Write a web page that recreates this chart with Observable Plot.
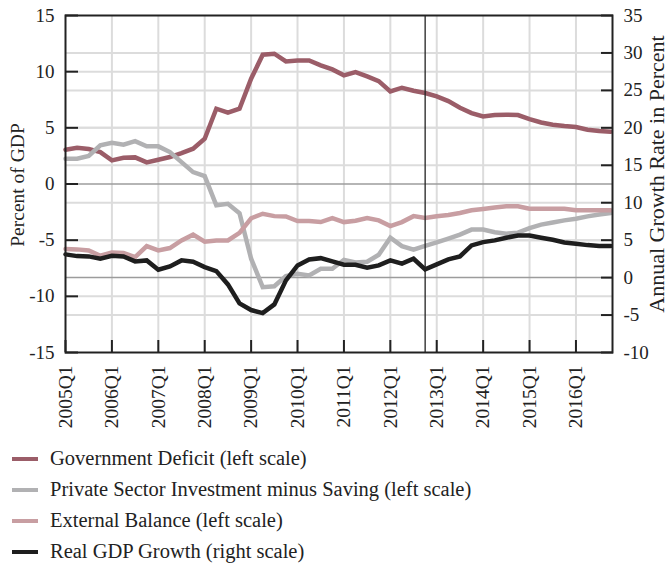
<!DOCTYPE html>
<html><head><meta charset="utf-8">
<script src="https://cdn.jsdelivr.net/npm/d3@7"></script>
<script src="https://cdn.jsdelivr.net/npm/@observablehq/plot@0.6"></script>
<style>
body{margin:0;background:#fff;font-family:"Liberation Serif",serif;overflow:hidden;}
#legend{padding-top:3px;}
.item{display:flex;align-items:center;height:31px;font-size:20.5px;color:#222;white-space:nowrap;}
.sw{width:26px;height:4px;margin-left:12px;margin-right:12px;flex:none;}
</style></head><body>
<div id="chart"></div>
<div id="legend"></div>
<script>
// Quarterly observations, 2005Q1 .. 2016Q4
const years = [2005,2006,2007,2008,2009,2010,2011,2012,2013,2014,2015,2016];
const quarters = years.flatMap(y => ["Q1","Q2","Q3","Q4"].map(q => y + q));

// Left scale (percent of GDP)
const govDeficit = [3.05,3.23,3.11,2.84,2.10,2.34,2.37,1.92,2.16,2.40,2.75,3.14,
  4.03,6.70,6.35,6.70,9.37,11.51,11.6,10.91,11.0,11.0,10.56,10.2,
  9.67,9.96,9.58,9.16,8.24,8.57,8.3,8.1,7.8,7.38,6.79,6.31,
  6.02,6.14,6.17,6.14,5.78,5.48,5.28,5.16,5.07,4.83,4.71,4.65];
const privateBalance = [2.25,2.25,2.49,3.44,3.67,3.5,3.82,3.35,3.35,2.84,1.95,1.06,
  0.7,-1.9,-1.76,-2.6,-6.65,-9.18,-9.1,-8.2,-8.0,-8.14,-7.54,-7.54,
  -6.75,-6.98,-6.92,-6.3,-4.78,-5.53,-5.85,-5.5,-5.2,-4.86,-4.51,-4.06,
  -4.06,-4.3,-4.42,-4.33,-3.92,-3.62,-3.42,-3.24,-3.09,-2.88,-2.71,-2.59];
const externalBalance = [-5.79,-5.82,-5.91,-6.39,-6.09,-6.15,-6.51,-5.53,-5.91,-5.7,-5.02,-4.51,
  -5.14,-5.02,-5.02,-4.35,-3.05,-2.65,-2.86,-2.89,-3.3,-3.3,-3.39,-3.03,
  -3.39,-3.27,-3.03,-3.24,-3.74,-3.39,-2.86,-3.03,-2.88,-2.76,-2.58,-2.34,
  -2.22,-2.1,-1.99,-1.99,-2.2,-2.2,-2.2,-2.2,-2.34,-2.34,-2.34,-2.34];
// Right scale (annual growth rate, percent)
const gdpGrowth = [3.1,2.87,2.83,2.52,2.92,2.83,2.16,2.3,1.05,1.5,2.3,2.12,
  1.4,0.87,-0.91,-3.45,-4.33,-4.74,-3.58,-0.37,1.63,2.43,2.6,2.16,
  1.72,1.72,1.32,1.63,2.3,1.86,2.52,1.1,1.76,2.43,2.83,4.3,
  4.74,4.97,5.33,5.63,5.63,5.33,5.06,4.7,4.53,4.34,4.21,4.21];

const leftTicks = [15,10,5,0,-5,-10,-15];
const rightTicks = [35,30,25,20,15,10,5,0,-5,-10];
const xTickLabels = ["2005Q1","2006Q1","2007Q1","2008Q1","2009Q1","2010Q1","2011Q1","2012Q1","2013Q1","2014Q1","2015Q1","2016Q1"];
const forecastStart = "2012Q4";
const leftTitle = "Percent of GDP";
const rightTitle = "Annual Growth Rate in Percent";

const seriesNames = ["Government Deficit (left scale)","Private Sector Investment minus Saving (left scale)","External Balance (left scale)","Real GDP Growth (right scale)"];
const colors = ["#9b5d68","#b1b1b3","#c89ea2","#1e1e1e"];

// right scale -> left scale (35 <-> 15, -10 <-> -15)
const toLeft = r => (2 * r - 25) / 3;
const toRight = l => (3 * l + 25) / 2;

const rows = (vals, name, conv = v => v) => vals.map((v, i) => ({i, v: conv(v), name}));
const data = [
  ...rows(govDeficit, seriesNames[0]),
  ...rows(privateBalance, seriesNames[1]),
  ...rows(externalBalance, seriesNames[2]),
  ...rows(gdpGrowth, seriesNames[3], toLeft)
];
const xTicks = xTickLabels.map(l => quarters.indexOf(l));
const fmt = d => String(Math.round(d));

const plot = Plot.plot({
  width: 669, height: 440,
  marginLeft: 65, marginRight: 57, marginTop: 15, marginBottom: 88,
  style: {fontFamily: "Liberation Serif, serif", fontSize: "19px", color: "#222", background: "#fff", overflow: "visible"},
  x: {domain: [0, quarters.length - 0.85], axis: null},
  y: {domain: [-15, 15], axis: null},
  color: {domain: seriesNames, range: colors},
  marks: [
    Plot.ruleX(xTicks.slice(1), {stroke: "#dcdcdc", strokeWidth: 2}),
    Plot.ruleY(leftTicks.filter(d => d !== 0 && Math.abs(d) !== 15), {stroke: "#dcdcdc", strokeWidth: 2}),
    Plot.ruleY(rightTicks.filter(d => d !== 0 && d !== 35 && d !== -10).map(toLeft), {stroke: "#dcdcdc", strokeWidth: 2}),
    Plot.ruleY([0, toLeft(0)], {stroke: "#9c9c9c", strokeWidth: 1.5}),
    Plot.line(data, {x: "i", y: "v", z: "name", stroke: "name", strokeWidth: 4.5, strokeLinejoin: "miter", strokeMiterlimit: 2}),
    Plot.ruleX([quarters.indexOf(forecastStart)], {stroke: "#222", strokeWidth: 1.3}),
    Plot.frame({stroke: "#222", strokeWidth: 2}),
    Plot.axisY(leftTicks, {anchor: "left", tickSize: -13, tickPadding: 24, strokeWidth: 2, tickFormat: fmt,
      label: null, fontSize: 19}),
    Plot.axisY(rightTicks.map(toLeft), {anchor: "right", tickSize: -12, tickPadding: 23, strokeWidth: 2,
      tickFormat: d => fmt(toRight(d)), label: null, fontSize: 19}),
    Plot.axisX(xTicks, {anchor: "bottom", tickSize: -12, tickPadding: 25, strokeWidth: 2, tickRotate: -90,
      tickFormat: d => quarters[d], label: null, fontSize: 19.5}),
    Plot.text([leftTitle], {text: d => d, frameAnchor: "left", rotate: -90, textAnchor: "middle",
      lineAnchor: "top", dx: -55, dy: 1, fontSize: 19.5, fill: "#222"}),
    Plot.text([rightTitle], {text: d => d, frameAnchor: "right", rotate: -90, textAnchor: "middle",
      lineAnchor: "bottom", dx: 51, dy: -10, fontSize: 22, fill: "#222"})
  ]
});
document.getElementById("chart").appendChild(plot);

const legend = document.getElementById("legend");
seriesNames.forEach((n, k) => {
  const it = document.createElement("div");
  it.className = "item";
  const sw = document.createElement("span");
  sw.className = "sw"; sw.style.background = colors[k];
  const t = document.createElement("span"); t.textContent = n;
  it.appendChild(sw); it.appendChild(t);
  legend.appendChild(it);
});
</script>
</body></html>
